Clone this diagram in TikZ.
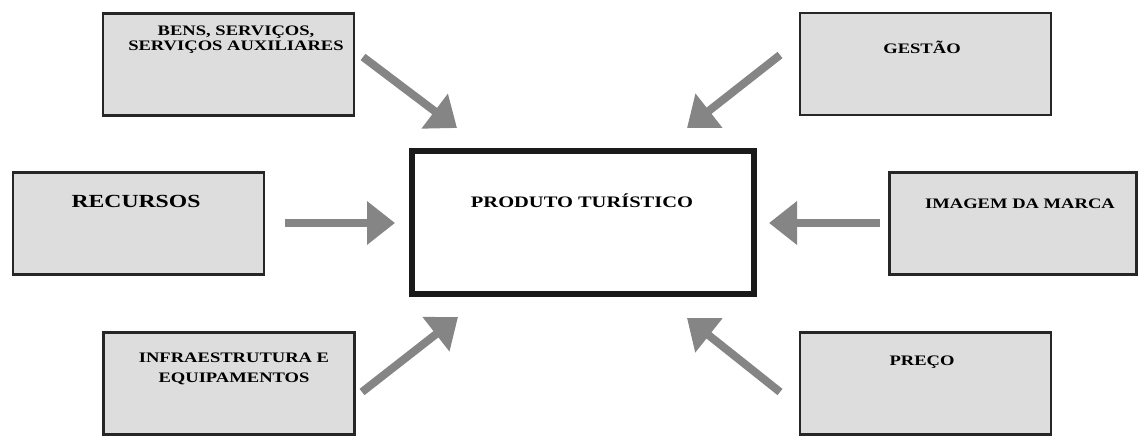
\documentclass[tikz,border=0pt]{standalone}
\usepackage{fontspec}
\setmainfont{Liberation Serif}[FakeStretch=1.28]
\usetikzlibrary{arrows.meta}
\definecolor{boxfill}{HTML}{DDDDDD}
\definecolor{boxline}{HTML}{262626}
\definecolor{mainline}{HTML}{1A1A1A}
\definecolor{arrowgray}{HTML}{858585}
\begin{document}
\begin{tikzpicture}[x=1pt,y=-1pt,
  box/.style={draw=boxline, line width=2.5pt, fill=boxfill, inner sep=0pt,
              minimum width=251pt, minimum height=102pt},
  mainbox/.style={draw=mainline, line width=6pt, fill=white, inner sep=0pt,
              minimum width=342pt, minimum height=143pt},
  lbl/.style={anchor=base, inner sep=0pt, align=center, text=black,
              font=\bfseries\fontsize{14.5}{14}\selectfont},
  arr/.style={draw=arrowgray, line width=8pt,
              -{Triangle[length=28pt,width=42pt]}}]
\useasboundingbox (0,0) rectangle (1139,436);

% boxes
\node[box] (bens) at (228.5,64.5) {};
\node[box] (gestao) at (925.5,64) {};
\node[box] (recursos) at (138.5,223.5) {};
\node[box, minimum width=247pt] (imagem) at (1013,223.5) {};
\node[box] (infra) at (229,383.5) {};
\node[box] (preco) at (925.5,383.5) {};
\node[mainbox] (produto) at (583,222.5) {};

% labels (multi-line: base = last line)
\node[lbl] (bensT) at (236,50) {BENS, SERVIÇOS,\\SERVIÇOS AUXILIARES};
\node[lbl] (gestaoT) at (922,53) {GESTÃO};
\node[lbl, font=\bfseries\fontsize{18.5}{20}\selectfont] (recursosT) at (136,207) {RECURSOS};
\node[lbl, font=\bfseries\fontsize{16}{18}\selectfont] (produtoT) at (582,207) {PRODUTO TURÍSTICO};
\node[lbl] (imagemT) at (1020,208) {IMAGEM DA MARCA};
\node[lbl, font=\bfseries\fontsize{14.5}{20}\selectfont] (infraT) at (234,382) {INFRAESTRUTURA E\\EQUIPAMENTOS};
\node[lbl] (precoT) at (922,365) {PREÇO};

% arrow end points
\coordinate (tlA) at (363,57);  \coordinate (tlB) at (457,128);
\coordinate (trA) at (780,55);  \coordinate (trB) at (687,128);
\coordinate (lA)  at (285,223); \coordinate (lB)  at (395,223);
\coordinate (rA)  at (880,223); \coordinate (rB)  at (769,223);
\coordinate (blA) at (362,392); \coordinate (blB) at (458,317);
\coordinate (brA) at (780,392); \coordinate (brB) at (687,318);

\draw[arr] (tlA) -- (tlB);
\draw[arr] (trA) -- (trB);
\draw[arr] (lA) -- (lB);
\draw[arr] (rA) -- (rB);
\draw[arr] (blA) -- (blB);
\draw[arr] (brA) -- (brB);
\end{tikzpicture}
\end{document}
